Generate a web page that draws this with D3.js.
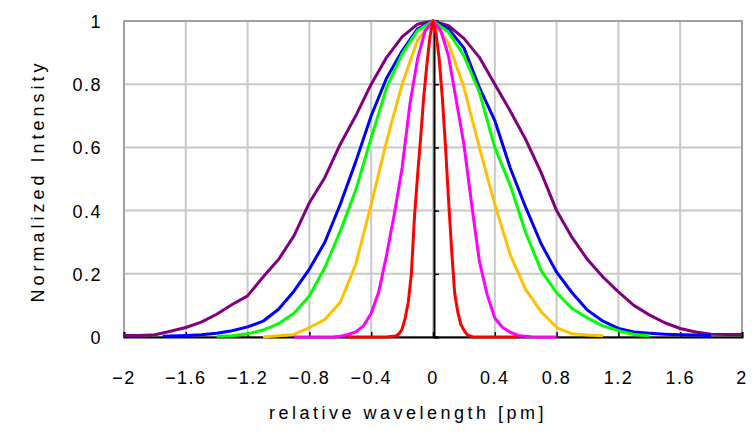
<!DOCTYPE html>
<html>
<head>
<meta charset="utf-8">
<script src="https://cdn.jsdelivr.net/npm/d3@7/dist/d3.min.js"></script>
<style>
  html, body { margin: 0; padding: 0; background: #fff; }
  svg { display: block; }
  text { font-family: "Liberation Sans", Arial, sans-serif; fill: #000; }
</style>
</head>
<body>
<svg id="chart" width="756" height="435"></svg>
<script>
// ---- data ----
const xTickValues = [-2, -1.6, -1.2, -0.8, -0.4, 0, 0.4, 0.8, 1.2, 1.6, 2];
const yTickValues = [0, 0.2, 0.4, 0.6, 0.8, 1];
const seriesNames = ["purple", "blue", "green", "orange", "magenta", "red"];
const seriesColors = ["#800080", "#0000ff", "#00ff00", "#ffc000", "#ff00ff", "#ff0000"];

const purpleX = [-2.0,-1.9,-1.8,-1.7,-1.6,-1.5,-1.4,-1.3,-1.2,-1.1,-1.0,-0.9,-0.8,-0.7,-0.6,-0.5,-0.4,-0.3,-0.2,-0.1,0,0.1,0.2,0.3,0.4,0.5,0.6,0.7,0.8,0.9,1.0,1.1,1.2,1.3,1.4,1.5,1.6,1.7,1.8,1.9,2.0];
const purpleY = [0.005,0.005,0.007,0.018,0.03,0.047,0.072,0.103,0.13,0.19,0.245,0.32,0.425,0.505,0.61,0.70,0.80,0.885,0.95,0.99,1.0,0.985,0.945,0.885,0.80,0.715,0.625,0.52,0.40,0.315,0.245,0.19,0.143,0.10,0.07,0.045,0.027,0.016,0.009,0.008,0.008];

const blueX = [-1.75,-1.7,-1.6,-1.5,-1.4,-1.3,-1.2,-1.1,-1.0,-0.9,-0.8,-0.7,-0.6,-0.5,-0.4,-0.3,-0.2,-0.1,0,0.1,0.2,0.3,0.4,0.5,0.6,0.7,0.8,0.9,1.0,1.1,1.2,1.3,1.4,1.5,1.6,1.7,1.8];
const blueY = [0.002,0.003,0.005,0.007,0.012,0.02,0.032,0.05,0.088,0.145,0.215,0.30,0.42,0.555,0.70,0.82,0.905,0.975,1.0,0.975,0.915,0.79,0.685,0.535,0.41,0.295,0.205,0.14,0.085,0.05,0.027,0.016,0.012,0.009,0.007,0.006,0.005];

const greenX = [-1.4,-1.3,-1.2,-1.1,-1.0,-0.9,-0.8,-0.7,-0.6,-0.5,-0.4,-0.3,-0.2,-0.1,0,0.1,0.2,0.3,0.4,0.5,0.6,0.7,0.8,0.9,1.0,1.1,1.2,1.3,1.4];
const greenY = [0.002,0.004,0.01,0.022,0.042,0.075,0.13,0.22,0.335,0.465,0.63,0.79,0.895,0.97,1.0,0.965,0.89,0.775,0.60,0.48,0.33,0.21,0.14,0.09,0.06,0.035,0.02,0.008,0.004];

const orangeX = [-1.1,-1.0,-0.9,-0.8,-0.7,-0.6,-0.5,-0.4,-0.3,-0.2,-0.1,0,0.1,0.2,0.3,0.4,0.5,0.6,0.7,0.8,0.9,1.0,1.1];
const orangeY = [0.0,0.004,0.008,0.03,0.055,0.11,0.23,0.42,0.62,0.80,0.94,1.0,0.93,0.79,0.60,0.42,0.26,0.15,0.08,0.03,0.01,0.006,0.004];

const magentaX = [-0.9,-0.65,-0.6,-0.55,-0.5,-0.45,-0.4,-0.35,-0.3,-0.25,-0.2,-0.15,-0.1,-0.05,0,0.05,0.1,0.15,0.2,0.25,0.3,0.35,0.4,0.45,0.5,0.55,0.6,0.65,0.8];
const magentaY = [0.0,0.0,0.002,0.008,0.016,0.035,0.075,0.145,0.26,0.39,0.535,0.735,0.88,0.97,1.0,0.97,0.89,0.75,0.61,0.42,0.24,0.135,0.06,0.03,0.015,0.005,0.002,0.0,0.0];

const redX = [-0.55,-0.3,-0.24,-0.22,-0.2,-0.18,-0.16,-0.14,-0.12,-0.1,-0.08,-0.06,-0.04,-0.02,0,0.02,0.04,0.06,0.08,0.1,0.12,0.14,0.16,0.18,0.2,0.22,0.24,0.26,0.55];
const redY = [0.0,0.0,0.003,0.01,0.025,0.06,0.11,0.2,0.38,0.51,0.63,0.76,0.86,0.95,1.0,0.96,0.88,0.76,0.61,0.44,0.28,0.14,0.08,0.04,0.022,0.008,0.003,0.0,0.0];

const seriesX = [purpleX, blueX, greenX, orangeX, magentaX, redX];
const seriesY = [purpleY, blueY, greenY, orangeY, magentaY, redY];

// ---- layout ----
const svg = d3.select("#chart");
const plotLeft = 124, plotRight = 742, plotTop = 21, plotBottom = 337;

const x = d3.scaleLinear().domain([-2, 2]).range([plotLeft, plotRight]);
const y = d3.scaleLinear().domain([0, 1]).range([plotBottom, plotTop]);

// gridlines
const grid = svg.append("g");
grid.append("g").selectAll("line").data(xTickValues.filter(v => v > -2 && v < 2)).join("line")
  .attr("x1", d => x(d)).attr("x2", d => x(d))
  .attr("y1", plotTop).attr("y2", plotBottom)
  .attr("stroke", "#c8c8c8").attr("stroke-width", 2);
grid.append("g").selectAll("line").data(yTickValues.filter(v => v > 0 && v < 1)).join("line")
  .attr("x1", plotLeft).attr("x2", plotRight)
  .attr("y1", d => y(d)).attr("y2", d => y(d))
  .attr("stroke", "#c8c8c8").attr("stroke-width", 2);

// plot border
svg.append("rect")
  .attr("x", plotLeft).attr("y", plotTop)
  .attr("width", plotRight - plotLeft).attr("height", plotBottom - plotTop)
  .attr("fill", "none").attr("stroke", "#a0a0a0").attr("stroke-width", 2);

// x axis (black baseline with inward ticks)
const xAxis = d3.axisTop(x).tickValues(xTickValues).tickSize(5).tickFormat("");
const gx = svg.append("g").attr("transform", `translate(0,${y(0)})`).call(xAxis);
gx.select(".domain").attr("stroke", "#000").attr("stroke-width", 2);
gx.selectAll(".tick line").attr("stroke", "#000").attr("stroke-width", 1.5);

// y axis at x = 0
const yAxis = d3.axisRight(y).tickValues(yTickValues).tickSize(5).tickFormat("");
const gy = svg.append("g").attr("transform", `translate(${x(0) + 1},0)`).call(yAxis);
gy.select(".domain").attr("stroke", "#000").attr("stroke-width", 2);
gy.selectAll(".tick line").attr("stroke", "#000").attr("stroke-width", 1.5);

// tick labels
svg.append("g").selectAll("text").data(yTickValues).join("text")
  .attr("x", 102).attr("y", d => y(d) + 7)
  .attr("text-anchor", "end")
  .attr("font-size", 18).attr("letter-spacing", 1.5)
  .text(d => d3.format("~g")(d));

svg.append("g").selectAll("text").data(xTickValues).join("text")
  .attr("x", d => x(d)).attr("y", 384)
  .attr("text-anchor", "middle")
  .attr("font-size", 18).attr("letter-spacing", 1.5)
  .text(d => d3.format("~g")(d));

// axis titles
svg.append("text")
  .attr("x", 408).attr("y", 419)
  .attr("text-anchor", "middle")
  .attr("font-size", 18).attr("letter-spacing", 3.5)
  .text("relative wavelength [pm]");

svg.append("text")
  .attr("transform", `translate(44,181) rotate(-90)`)
  .attr("text-anchor", "middle")
  .attr("font-size", 18).attr("letter-spacing", 4)
  .text("Normalized Intensity");

// series lines
const line = d3.line().x(d => x(d[0])).y(d => y(d[1]));
seriesNames.forEach((name, i) => {
  const pts = seriesX[i].map((xv, j) => [xv, seriesY[i][j]]);
  svg.append("path")
    .datum(pts)
    .attr("class", "series " + name)
    .attr("fill", "none")
    .attr("stroke", seriesColors[i])
    .attr("stroke-width", 3)
    .attr("stroke-linejoin", "round")
    .attr("d", line);
});
</script>
</body>
</html>
